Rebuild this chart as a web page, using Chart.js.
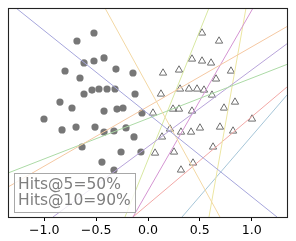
<!DOCTYPE html>
<html>
<head>
<meta charset="utf-8">
<script src="https://cdn.jsdelivr.net/npm/chart.js@4"></script>
<style>
  body { margin: 0; background: #fff; }
  canvas { display: block; }
</style>
</head>
<body>
<canvas id="chart" width="296" height="241"></canvas>
<script>
const xTicks = [-1.0, -0.5, 0.0, 0.5, 1.0];

// filled circles (class A)
const circleX = [-0.521, -0.685, -0.617, -0.521, -0.424, -0.800, -0.309, -0.145, -0.656, -0.540,
  -0.473, -0.395, -0.318, -0.617, -0.125, -0.849, -0.733, -0.424, -0.299, -0.241,
  -0.058, -1.003, -0.829, -0.694, -0.511, -0.424, -0.328, -0.212, -0.135, -0.636,
  -0.260, -0.068, -0.444, -0.328];
const circleY = [0.761, 0.684, 0.474, 0.493, 0.522, 0.397, 0.416, 0.378, 0.330, 0.215,
  0.225, 0.225, 0.225, 0.177, 0.177, 0.100, 0.043, 0.014, 0.033, 0.043,
  -0.005, -0.062, -0.167, -0.139, -0.139, -0.187, -0.177, -0.148, -0.234, -0.330,
  -0.378, -0.378, -0.474, -0.550];

// hollow triangles (class B)
const triangleX = [0.521, 0.685, 0.424, 0.521, 0.608, 0.145, 0.299, 0.800, 0.656, 0.125,
  0.309, 0.395, 0.473, 0.540, 0.617, 0.048, 0.241, 0.299, 0.424, 0.733,
  0.839, 1.003, 0.212, 0.318, 0.415, 0.501, 0.694, 0.820, 0.135, 0.068,
  0.251, 0.627, 0.434, 0.318];
const triangleY = [0.761, 0.684, 0.512, 0.493, 0.474, 0.378, 0.407, 0.397, 0.321, 0.177,
  0.225, 0.225, 0.225, 0.215, 0.167, -0.005, 0.033, 0.033, 0.014, 0.043,
  0.100, -0.062, -0.158, -0.187, -0.187, -0.148, -0.139, -0.177, -0.234, -0.388,
  -0.378, -0.330, -0.483, -0.550];

// separating lines, start and end points
const lineStartX = [-1.273, -0.415, -1.35, -1.35, -0.916, 0.588, 1.013, 0.945, 1.340, 1.340];
const lineStartY = [1.0, 1.0, -0.713, -0.579, -1.0, 1.0, 1.0, 1.0, 0.244, 0.167];
const lineEndX = [1.244, 0.694, 1.35, 1.35, 1.35, -0.222, -0.145, 0.588, -0.145, 0.328];
const lineEndY = [-1.0, -1.0, 0.828, 0.464, 0.665, -1.0, -1.0, -1.0, -1.0, -1.0];

const hitsText = ['Hits@5=50%', 'Hits@10=90%'];

const lineColors = ['#a6a6dc', '#f3d8a4', '#f5c8a2', '#acdaa6', '#b8a4da',
  '#d8e8a2', '#d494d2', '#ece6a2', '#f2a8a6', '#a6c6d8'];

const lineSets = lineStartX.map((x, i) => ({
  data: [{ x: x, y: lineStartY[i] }, { x: lineEndX[i], y: lineEndY[i] }],
  showLine: true,
  borderColor: lineColors[i],
  borderWidth: 1,
  pointRadius: 0,
  fill: false
}));

const circles = {
  data: circleX.map((x, i) => ({ x: x, y: circleY[i] })),
  pointStyle: 'circle',
  pointRadius: 3.6,
  backgroundColor: '#777777',
  borderWidth: 0
};

const triangles = {
  data: triangleX.map((x, i) => ({ x: x, y: triangleY[i] })),
  pointStyle: 'triangle',
  pointRadius: 4.2,
  backgroundColor: 'rgba(0,0,0,0)',
  borderColor: '#6e6e6e',
  borderWidth: 1
};

const frameAndBox = {
  id: 'frameAndBox',
  afterDatasetsDraw(chart) {
    const ctx = chart.ctx;
    const a = chart.chartArea;
    ctx.save();
    // text box
    ctx.fillStyle = 'rgba(255,255,255,0.8)';
    ctx.fillRect(14, 173.5, 121, 39);
    ctx.strokeStyle = '#a8a8a8';
    ctx.lineWidth = 1;
    ctx.strokeRect(14.5, 173.5, 121, 39);
    ctx.fillStyle = '#7f7f7f';
    ctx.font = '15.5px "DejaVu Sans"';
    ctx.textBaseline = 'alphabetic';
    ctx.fillText(hitsText[0], 18, 189);
    ctx.fillText(hitsText[1], 18, 205);
    // axes frame
    ctx.strokeStyle = '#222';
    ctx.lineWidth = 1.1;
    ctx.strokeRect(a.left + 0.5, a.top + 0.5, a.right - a.left - 1, a.bottom - a.top);
    ctx.restore();
  }
};

new Chart(document.getElementById('chart'), {
  type: 'scatter',
  data: { datasets: [...lineSets, circles, triangles] },
  options: {
    responsive: false,
    animation: false,
    devicePixelRatio: 1,
    layout: { padding: { left: 8, right: 8, top: 8, bottom: 0 } },
    plugins: { legend: { display: false }, tooltip: { enabled: false } },
    scales: {
      x: {
        min: -1.35,
        max: 1.35,
        afterBuildTicks: axis => { axis.ticks = xTicks.map(v => ({ value: v })); },
        afterFit: axis => { axis.height = 24; },
        grid: { drawOnChartArea: false, drawTicks: true, tickLength: 4, color: '#000' },
        border: { display: false },
        ticks: {
          padding: 2,
          color: '#000',
          maxRotation: 0,
          font: { family: 'DejaVu Sans', size: 12.6 },
          callback: v => (v < 0 ? '\u2212' : '') + Math.abs(v).toFixed(1)
        }
      },
      y: {
        display: false,
        min: -1,
        max: 1
      }
    }
  },
  plugins: [frameAndBox]
});
</script>
</body>
</html>
